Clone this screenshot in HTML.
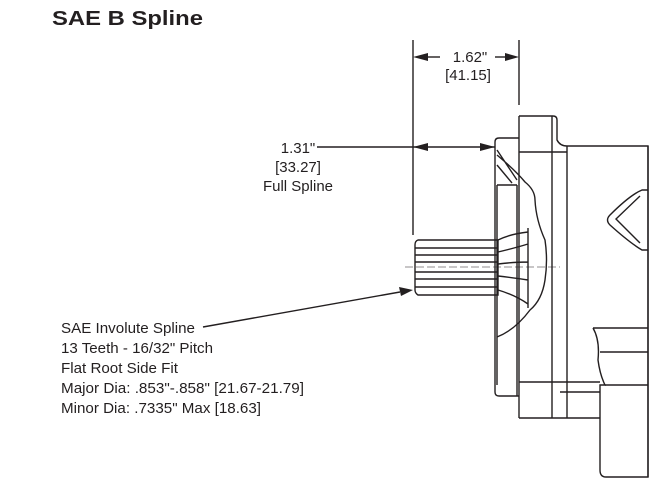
<!DOCTYPE html>
<html><head><meta charset="utf-8"><style>
html,body{margin:0;padding:0;background:#fff;}
svg{display:block;}
text{font-family:"Liberation Sans",sans-serif;fill:#231f20;}
</style></head><body>
<svg width="654" height="502" viewBox="0 0 654 502" xmlns="http://www.w3.org/2000/svg">
<text x="52" y="25" font-size="20" font-weight="bold" textLength="151" lengthAdjust="spacingAndGlyphs">SAE B Spline</text>

<g stroke="#231f20" stroke-width="1.4" fill="none">
<line x1="413" y1="40" x2="413" y2="235"/>
<line x1="519" y1="40" x2="519" y2="105"/>
<line x1="428" y1="57" x2="440" y2="57"/>
<line x1="495" y1="57" x2="505" y2="57"/>
<line x1="317" y1="147" x2="495" y2="147"/>
<line x1="203" y1="327" x2="400" y2="292"/>

<path d="M519 116 L553 116 Q557 116 557 120 L557 140 Q560 146 567 146 L648 146 L648 328"/>
<line x1="519" y1="116" x2="519" y2="418"/>
<line x1="552" y1="116" x2="552" y2="418"/>
<line x1="519" y1="418" x2="557" y2="418"/>
<line x1="519" y1="152" x2="567" y2="152"/>
<line x1="519" y1="382" x2="600" y2="382"/>
<line x1="567" y1="146" x2="567" y2="418"/>
<line x1="557" y1="418" x2="600" y2="418"/>
<line x1="560" y1="392" x2="600" y2="392"/>
<path d="M519 138 L499 138 Q495 138 495 142 L495 392 Q495 396 499 396 L519 396"/>
<line x1="497" y1="185" x2="497" y2="385"/>
<line x1="517" y1="185" x2="517" y2="396"/>
<line x1="497" y1="185" x2="517" y2="185"/>
<path d="M497 150 L517 180 M497 165 L512 183 M497 155 Q515 170 525 182 Q535 190 535 200 Q536 220 545 240 Q548 260 545 280 Q542 300 530 310 Q515 330 497 337"/>
<path d="M418 240 L498 240 L498 295 L418 295 Q415 293 415 290 L415 245 Q415 241 418 240 Z"/>
<line x1="415" y1="248" x2="498" y2="248"/>
<line x1="415" y1="255" x2="498" y2="255"/>
<line x1="415" y1="262" x2="498" y2="262"/>
<line x1="415" y1="272" x2="498" y2="272"/>
<line x1="415" y1="279" x2="498" y2="279"/>
<line x1="415" y1="287" x2="498" y2="287"/>
<path d="M498 240 Q510 234 528 232 M498 252 Q515 248 528 244 M498 264 Q515 262 528 262 M498 276 Q515 278 528 280 M498 290 Q515 295 528 304 M528 228 L528 308"/>
<line x1="405" y1="267" x2="560" y2="267" stroke-width="0.6" stroke-dasharray="8 3"/>
<path d="M648 190 L642 190 Q630 195 610 215 Q605 220 610 225 Q630 243 642 250 L648 250"/>
<path d="M640 196 L616 219 L640 243"/>
<path d="M593 328 L648 328 M593 328 Q600 340 598 360 Q600 375 605 385 L600 385 L600 470 Q600 477 606 477 L648 477 L648 328"/>
<line x1="600" y1="352" x2="648" y2="352"/>
<line x1="605" y1="385" x2="648" y2="385"/>
<line x1="648" y1="146" x2="648" y2="477"/>
</g>
<g fill="#231f20">
<polygon points="413,57 428,53 428,61"/>
<polygon points="519,57 505,53 505,61"/>
<polygon points="413,147 428,143 428,151"/>
<polygon points="495,147 480,143 480,151"/>
<polygon points="413,290 399,287 401,296"/>
</g>

<text x="470" y="62" font-size="15" text-anchor="middle">1.62"</text>
<text x="468" y="80" font-size="15" text-anchor="middle">[41.15]</text>
<text x="298" y="153" font-size="15" text-anchor="middle">1.31"</text>
<text x="298" y="172" font-size="15" text-anchor="middle">[33.27]</text>
<text x="298" y="191" font-size="15" text-anchor="middle">Full Spline</text>

<g font-size="15">
<text x="61" y="333" textLength="134" lengthAdjust="spacingAndGlyphs">SAE Involute Spline</text>
<text x="61" y="353" textLength="152" lengthAdjust="spacingAndGlyphs">13 Teeth - 16/32" Pitch</text>
<text x="61" y="373" textLength="117" lengthAdjust="spacingAndGlyphs">Flat Root Side Fit</text>
<text x="61" y="393" textLength="243" lengthAdjust="spacingAndGlyphs">Major Dia: .853"-.858" [21.67-21.79]</text>
<text x="61" y="413" textLength="200" lengthAdjust="spacingAndGlyphs">Minor Dia: .7335" Max [18.63]</text>
</g>
</svg>
</body></html>
